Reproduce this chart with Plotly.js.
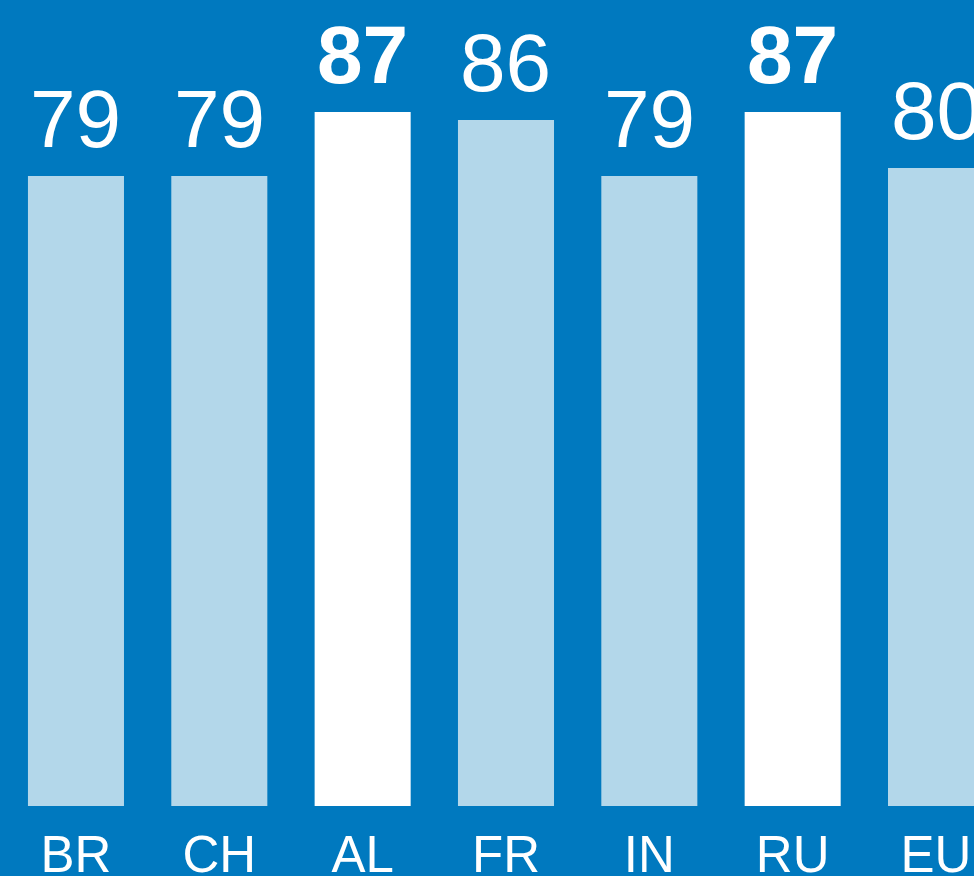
<!DOCTYPE html>
<html>
<head>
<meta charset="utf-8">
<script src="https://cdn.plot.ly/plotly-3.0.1.min.js"></script>
<style>
html,body{margin:0;padding:0;background:#0079BF;overflow:hidden;}
#chart{width:974px;height:876px;}
</style>
</head>
<body>
<div id="chart"></div>
<script>
const categories = ["BR", "CH", "AL", "FR", "IN", "RU", "EU"];
const values = [79, 79, 87, 86, 79, 87, 80];
const highlighted = ["AL", "RU"];

const BG = "#0079BF";
const LIGHT = "#B3D7EA";
const WHITE = "#FFFFFF";
const FONT = "Liberation Sans, Arial, sans-serif";

const isHi = categories.map(c => highlighted.includes(c));
const colors = isHi.map(h => h ? WHITE : LIGHT);
const texts = values.map((v, i) => isHi[i] ? "<b>" + v + "</b>" : String(v));

const trace = {
  type: "bar",
  x: categories,
  y: values,
  marker: {color: colors, line: {width: 0}},
  hoverinfo: "none"
};

const annotations = categories.map((c, i) => ({
  x: c,
  y: values[i],
  xref: "x",
  yref: "y",
  text: texts[i],
  showarrow: false,
  xanchor: "center",
  yanchor: "bottom",
  yshift: 10,
  font: {family: FONT, size: 82, color: WHITE}
}));

const layout = {
  width: 974,
  height: 876,
  margin: {l: 0, r: 0, t: 0, b: 70, pad: 0},
  paper_bgcolor: BG,
  plot_bgcolor: BG,
  bargap: 0.33,
  showlegend: false,
  annotations: annotations,
  xaxis: {
    type: "category",
    range: [-0.530, 6.265],
    showgrid: false, zeroline: false, showline: false,
    ticks: "", ticklen: 0,
    ticklabelstandoff: 14,
    tickfont: {family: FONT, size: 51, color: WHITE},
    fixedrange: true
  },
  yaxis: {
    range: [0, 101.05],
    visible: false,
    showgrid: false, zeroline: false,
    fixedrange: true
  }
};

Plotly.newPlot("chart", [trace], layout, {displayModeBar: false, staticPlot: true});
</script>
</body>
</html>
